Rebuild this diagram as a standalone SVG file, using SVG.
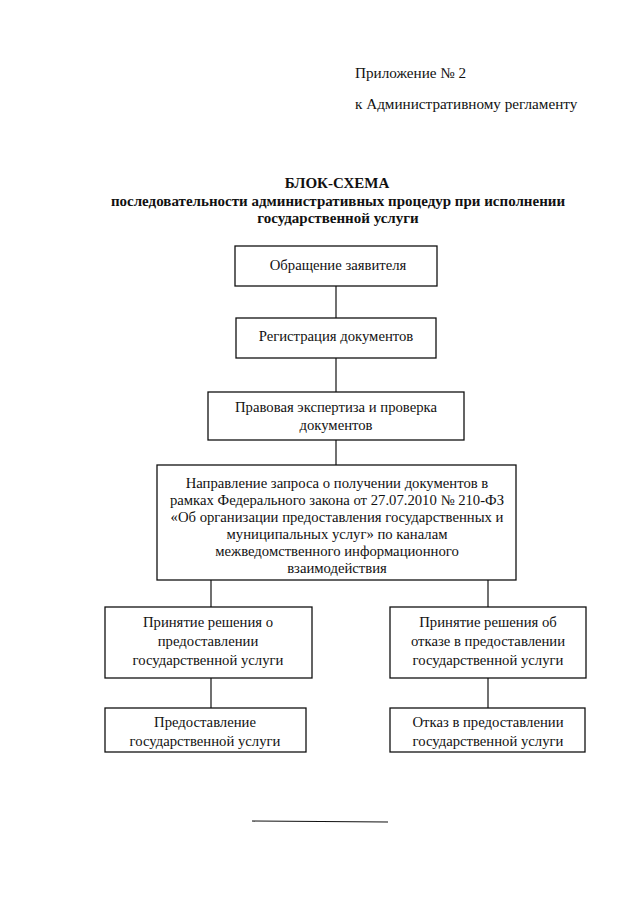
<svg xmlns="http://www.w3.org/2000/svg" width="640" height="905" viewBox="0 0 640 905">
<style>
.t{font-family:"Liberation Serif","Times New Roman",serif;font-size:14.7px;fill:#111}
.h{font-size:15.2px}
.c{text-anchor:middle}
.b{font-weight:bold;font-size:15px}
.box{fill:#fff;stroke:#111;stroke-width:1.3}
.ln{stroke:#111;stroke-width:1.2;fill:none}
</style>
<rect width="640" height="905" fill="#fff"/>
<text class="t h" x="355" y="78">Приложение № 2</text>
<text class="t h" x="355" y="109">к Административному регламенту</text>
<text class="t c b" x="337" y="188">БЛОК-СХЕМА</text>
<text class="t c b" x="338" y="206">последовательности административных процедур при исполнении</text>
<text class="t c b" x="338" y="223">государственной услуги</text>
<g id="connectors">
<line class="ln" x1="336" y1="286" x2="336" y2="318"/>
<line class="ln" x1="336" y1="358" x2="336" y2="392"/>
<line class="ln" x1="336" y1="440" x2="336" y2="465"/>
<line class="ln" x1="211" y1="580" x2="211" y2="607"/>
<line class="ln" x1="488" y1="580" x2="488" y2="607"/>
<line class="ln" x1="211" y1="678" x2="211" y2="708"/>
<line class="ln" x1="488" y1="678" x2="488" y2="708"/>
</g>
<g id="n1"><rect class="box" x="235" y="246" width="202" height="40"/>
<text class="t c" x="338" y="270">Обращение заявителя</text></g>
<g id="n2"><rect class="box" x="236" y="318" width="200" height="40"/>
<text class="t c" x="336" y="341">Регистрация документов</text></g>
<g id="n3"><rect class="box" x="208" y="392" width="256" height="48"/>
<text class="t c" x="336" y="412">Правовая экспертиза и проверка</text>
<text class="t c" x="336" y="430">документов</text></g>
<g id="n4"><rect class="box" x="157" y="465" width="359" height="115"/>
<text class="t c" x="337" y="488">Направление запроса о получении документов в</text>
<text class="t c" x="337" y="505">рамках Федерального закона от 27.07.2010 № 210-ФЗ</text>
<text class="t c" x="337" y="522">«Об организации предоставления государственных и</text>
<text class="t c" x="337" y="539">муниципальных услуг» по каналам</text>
<text class="t c" x="337" y="556">межведомственного информационного</text>
<text class="t c" x="337" y="573">взаимодействия</text></g>
<g id="n5"><rect class="box" x="105" y="607" width="207" height="71"/>
<text class="t c" x="208" y="627">Принятие решения о</text>
<text class="t c" x="208" y="646">предоставлении</text>
<text class="t c" x="208" y="665">государственной услуги</text></g>
<g id="n6"><rect class="box" x="390" y="607" width="196" height="71"/>
<text class="t c" x="488" y="627">Принятие решения об</text>
<text class="t c" x="488" y="646">отказе в предоставлении</text>
<text class="t c" x="488" y="665">государственной услуги</text></g>
<g id="n7"><rect class="box" x="105" y="708" width="201" height="44"/>
<text class="t c" x="205" y="727">Предоставление</text>
<text class="t c" x="205" y="746">государственной услуги</text></g>
<g id="n8"><rect class="box" x="390" y="708" width="195" height="44"/>
<text class="t c" x="488" y="727">Отказ в предоставлении</text>
<text class="t c" x="488" y="746">государственной услуги</text></g>
<line class="ln" x1="252" y1="821" x2="388" y2="822"/>
</svg>
